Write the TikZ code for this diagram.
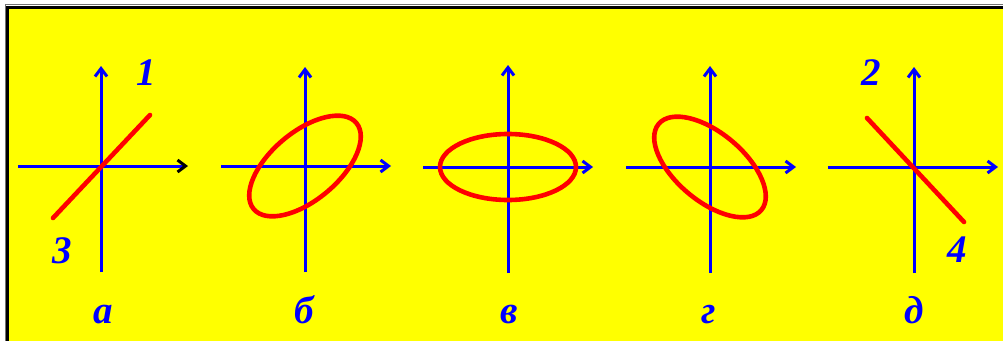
\documentclass[tikz,border=0pt]{standalone}
\usepackage{fontspec}
\setmainfont{Liberation Serif}
\usetikzlibrary{arrows.meta}
\definecolor{bgyellow}{RGB}{255,255,0}
\definecolor{axblue}{RGB}{0,0,255}
\definecolor{crvred}{RGB}{255,0,0}
\begin{document}
\begin{tikzpicture}[x=1pt,y=-1pt,
  axis/.style={axblue, line width=3pt, -{Straight Barb[length=8pt,width=12pt]}},
  axisline/.style={axblue, line width=3pt},
  curve/.style={crvred, line width=4.6pt, line cap=round},
  lbl/.style={text=axblue, font=\fontsize{39}{41}\selectfont\bfseries\itshape, inner sep=0pt, anchor=base}]
\useasboundingbox (0,0) rectangle (1003,340);
\fill[white] (0,0) rectangle (1003,340);
\fill[bgyellow] (7.5,7) rectangle (1010,350);
\draw[black!55, line width=1pt] (5,350) -- (5,4.5) -- (1010,4.5);
\draw[black, line width=3pt] (7.5,350) -- (7.5,7) -- (1010,7);

% panel a
\coordinate (oa) at (101,166);
\coordinate (xa0) at (18,166); \coordinate (xa1) at (188,166);
\coordinate (ya0) at (101,272); \coordinate (ya1) at (101,66);
\coordinate (ra0) at (53,218); \coordinate (ra1) at (150,115);
\draw[axisline, -{Straight Barb[length=8pt,width=12pt,color=black]}] (xa0) -- (xa1);
\draw[axis] (ya0) -- (ya1);
\draw[curve] (ra0) -- (ra1);
\node[lbl] (n1) at (146,85) {1};
\node[lbl] (n3) at (62,263) {3};
\node[lbl] (la) at (103,323) {а};

% panel b
\coordinate (ob) at (305,166);
\coordinate (xb0) at (221,166); \coordinate (xb1) at (391,166);
\coordinate (yb0) at (305,272); \coordinate (yb1) at (305,67);
\draw[axis] (xb0) -- (xb1);
\draw[axis] (yb0) -- (yb1);
\draw[curve, rotate around={40:(ob)}] (ob) ellipse [x radius=67, y radius=34];
\node[lbl] (lb) at (304,323) {б};

% panel c
\coordinate (oc) at (508,167);
\coordinate (xc0) at (423,167); \coordinate (xc1) at (593,167);
\coordinate (yc0) at (508,273); \coordinate (yc1) at (508,65);
\draw[axis] (xc0) -- (xc1);
\draw[axis] (yc0) -- (yc1);
\draw[curve] (oc) ellipse [x radius=68, y radius=33];
\node[lbl] (lc) at (509,323) {в};

% panel d
\coordinate (od) at (710,167);
\coordinate (xd0) at (626,167); \coordinate (xd1) at (796,167);
\coordinate (yd0) at (710,273); \coordinate (yd1) at (710,66);
\draw[axis] (xd0) -- (xd1);
\draw[axis] (yd0) -- (yd1);
\draw[curve, rotate around={-40:(od)}] (od) ellipse [x radius=67, y radius=34];
\node[lbl] (ld) at (709,323) {г};

% panel e
\coordinate (oe) at (914,167);
\coordinate (xe0) at (828,167); \coordinate (xe1) at (998,167);
\coordinate (ye0) at (914,273); \coordinate (ye1) at (914,67);
\coordinate (re0) at (867,118); \coordinate (re1) at (964,222);
\draw[axis] (xe0) -- (xe1);
\draw[axis] (ye0) -- (ye1);
\draw[curve] (re0) -- (re1);
\node[lbl] (n2) at (871,85) {2};
\node[lbl] (n4) at (957,262) {4};
\node[lbl] (le) at (914,323) {д};
\end{tikzpicture}
\end{document}
